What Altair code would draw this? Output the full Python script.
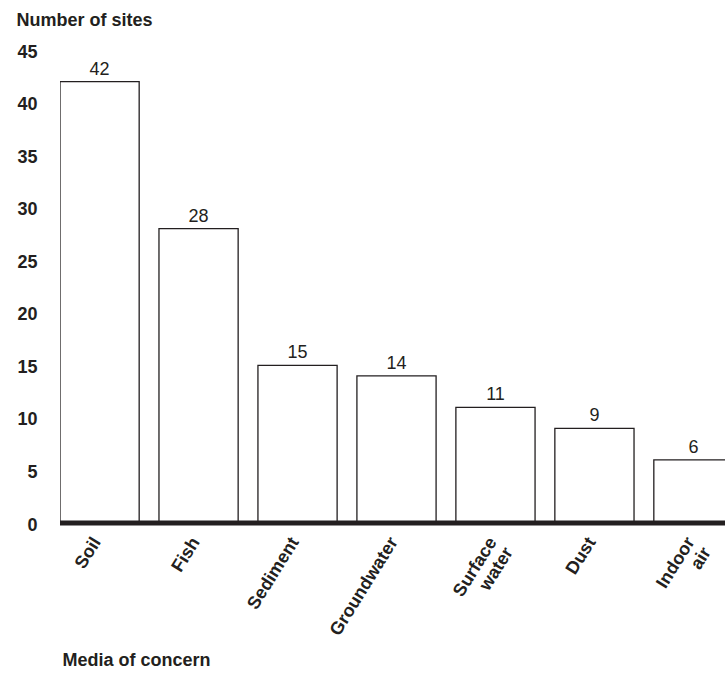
import altair as alt
import pandas as pd

# Number of sites per medium of concern
media = ["Soil", "Fish", "Sediment", "Groundwater", "Surface water", "Dust", "Indoor air"]
sites = [42, 28, 15, 14, 11, 9, 6]
y_ticks = [0, 5, 10, 15, 20, 25, 30, 35, 40, 45]

df = pd.DataFrame({"media": media, "sites": sites})
ink = "#231f20"
font = "Liberation Sans"
fs = 18

W, H = 665, 473

x = alt.X(
    "media:N",
    sort=media,
    scale=alt.Scale(range=[0, 673], paddingInner=0.2, paddingOuter=0),
    axis=alt.Axis(
        title="Media of concern",
        titleFont=font, titleFontSize=fs, titleFontWeight="bold", titleColor=ink,
        titleAlign="left", titleBaseline="middle", titleX=2, titleY=137,
        labelAngle=-58, labelAlign="right", labelBaseline="top",
        labelFont=font, labelFontSize=fs, labelFontWeight="bold", labelColor=ink,
        labelPadding=11, labelOffset=-10, labelLineHeight=19,
        labelExpr="split(datum.label, ' ')",
        domain=False, ticks=False, grid=False,
    ),
)
y = alt.Y(
    "sites:Q",
    scale=alt.Scale(domain=[0, 45], nice=False),
    axis=alt.Axis(
        title="Number of sites",
        titleFont=font, titleFontSize=fs, titleFontWeight="bold", titleColor=ink,
        titleAngle=0, titleAlign="left", titleBaseline="middle",
        titleX=-44, titleY=-30,
        values=y_ticks, labelFont=font, labelFontSize=fs, labelFontWeight="bold",
        labelColor=ink, labelPadding=23, labelOffset=2,
        domain=False, ticks=False, grid=False,
    ),
)

bars = alt.Chart(df).mark_bar(
    fill="white", stroke=ink, strokeWidth=1.3, clip=True
).encode(x=x, y=y)

values = alt.Chart(df).mark_text(
    font=font, fontSize=fs, color=ink, baseline="alphabetic", dy=-7, clip=True
).encode(x=x, y=y, text="sites:Q")

baseline = alt.Chart(pd.DataFrame({"sites": [0]})).mark_rule(
    color=ink, strokeWidth=5
).encode(y="sites:Q", x=alt.value(0), x2=alt.value(W))

chart = alt.layer(bars, values, baseline).properties(
    width=W, height=H,
    autosize=alt.AutoSizeParams(type="none"),
    padding={"left": 60, "top": 50, "right": 0, "bottom": 151},
    background="white",
).configure_view(stroke=None)

chart.save("out.html", embed_options={"renderer": "svg", "actions": False})
